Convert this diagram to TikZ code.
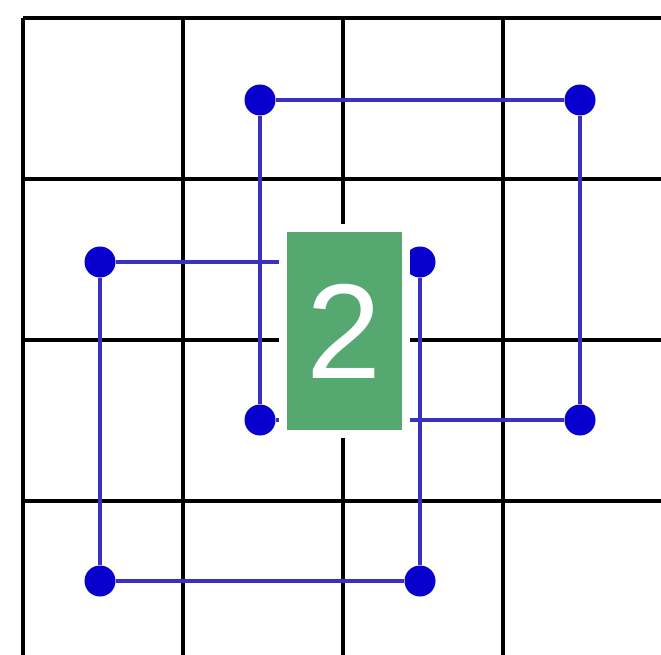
\documentclass[tikz,border=0pt]{standalone}
\usepackage{fontspec}
\setmainfont{Liberation Sans}
\usetikzlibrary{positioning}

\definecolor{loopblue}{RGB}{58,48,196}
\definecolor{dotblue}{RGB}{8,0,204}
\definecolor{tagfill}{RGB}{84,168,112}

\begin{document}
\begin{tikzpicture}[
        x=1pt, y=-1pt,
        gridline/.style={draw=black, line width=4.8pt},
        dotnode/.style={circle, fill=dotblue, minimum size=31pt, inner sep=0pt},
        loopline/.style={draw=loopblue, line width=4.5pt},
        tagnode/.style={rectangle, fill=tagfill, draw=white, line width=8pt, minimum width=123pt, minimum height=206pt, inner sep=0pt, text=white, font=\fontsize{135}{135}\selectfont}
    ]
        \useasboundingbox (0,0) rectangle (661,655);
        \clip (0,0) rectangle (661,655);
        \fill[white] (0,0) rectangle (661,655);
        % Board
        \foreach \k in {0,...,4} {
            \draw[gridline] (23+160*\k,18) -- (23+160*\k,680);
            \draw[gridline] (23,18+161*\k) -- (680,18+161*\k);
        }
        % Dots
        \node[dotnode] (a1) at (260,100) {};
        \node[dotnode] (a2) at (580,100) {};
        \node[dotnode] (a3) at (580,420) {};
        \node[dotnode] (a4) at (260,420) {};
        \node[dotnode] (b1) at (100,262) {};
        \node[dotnode] (b2) at (420,262) {};
        \node[dotnode] (b3) at (420,581) {};
        \node[dotnode] (b4) at (100,581) {};
        % Loops
        \draw[loopline] (a1) -- (a2) -- (a3) -- (a4) -- (a1);
        \draw[loopline] (b1) -- (b2) -- (b3) -- (b4) -- (b1);
        % Tag
        \node[tagnode] (tag) at (344,331) {2};
    \end{tikzpicture}
\end{document}
